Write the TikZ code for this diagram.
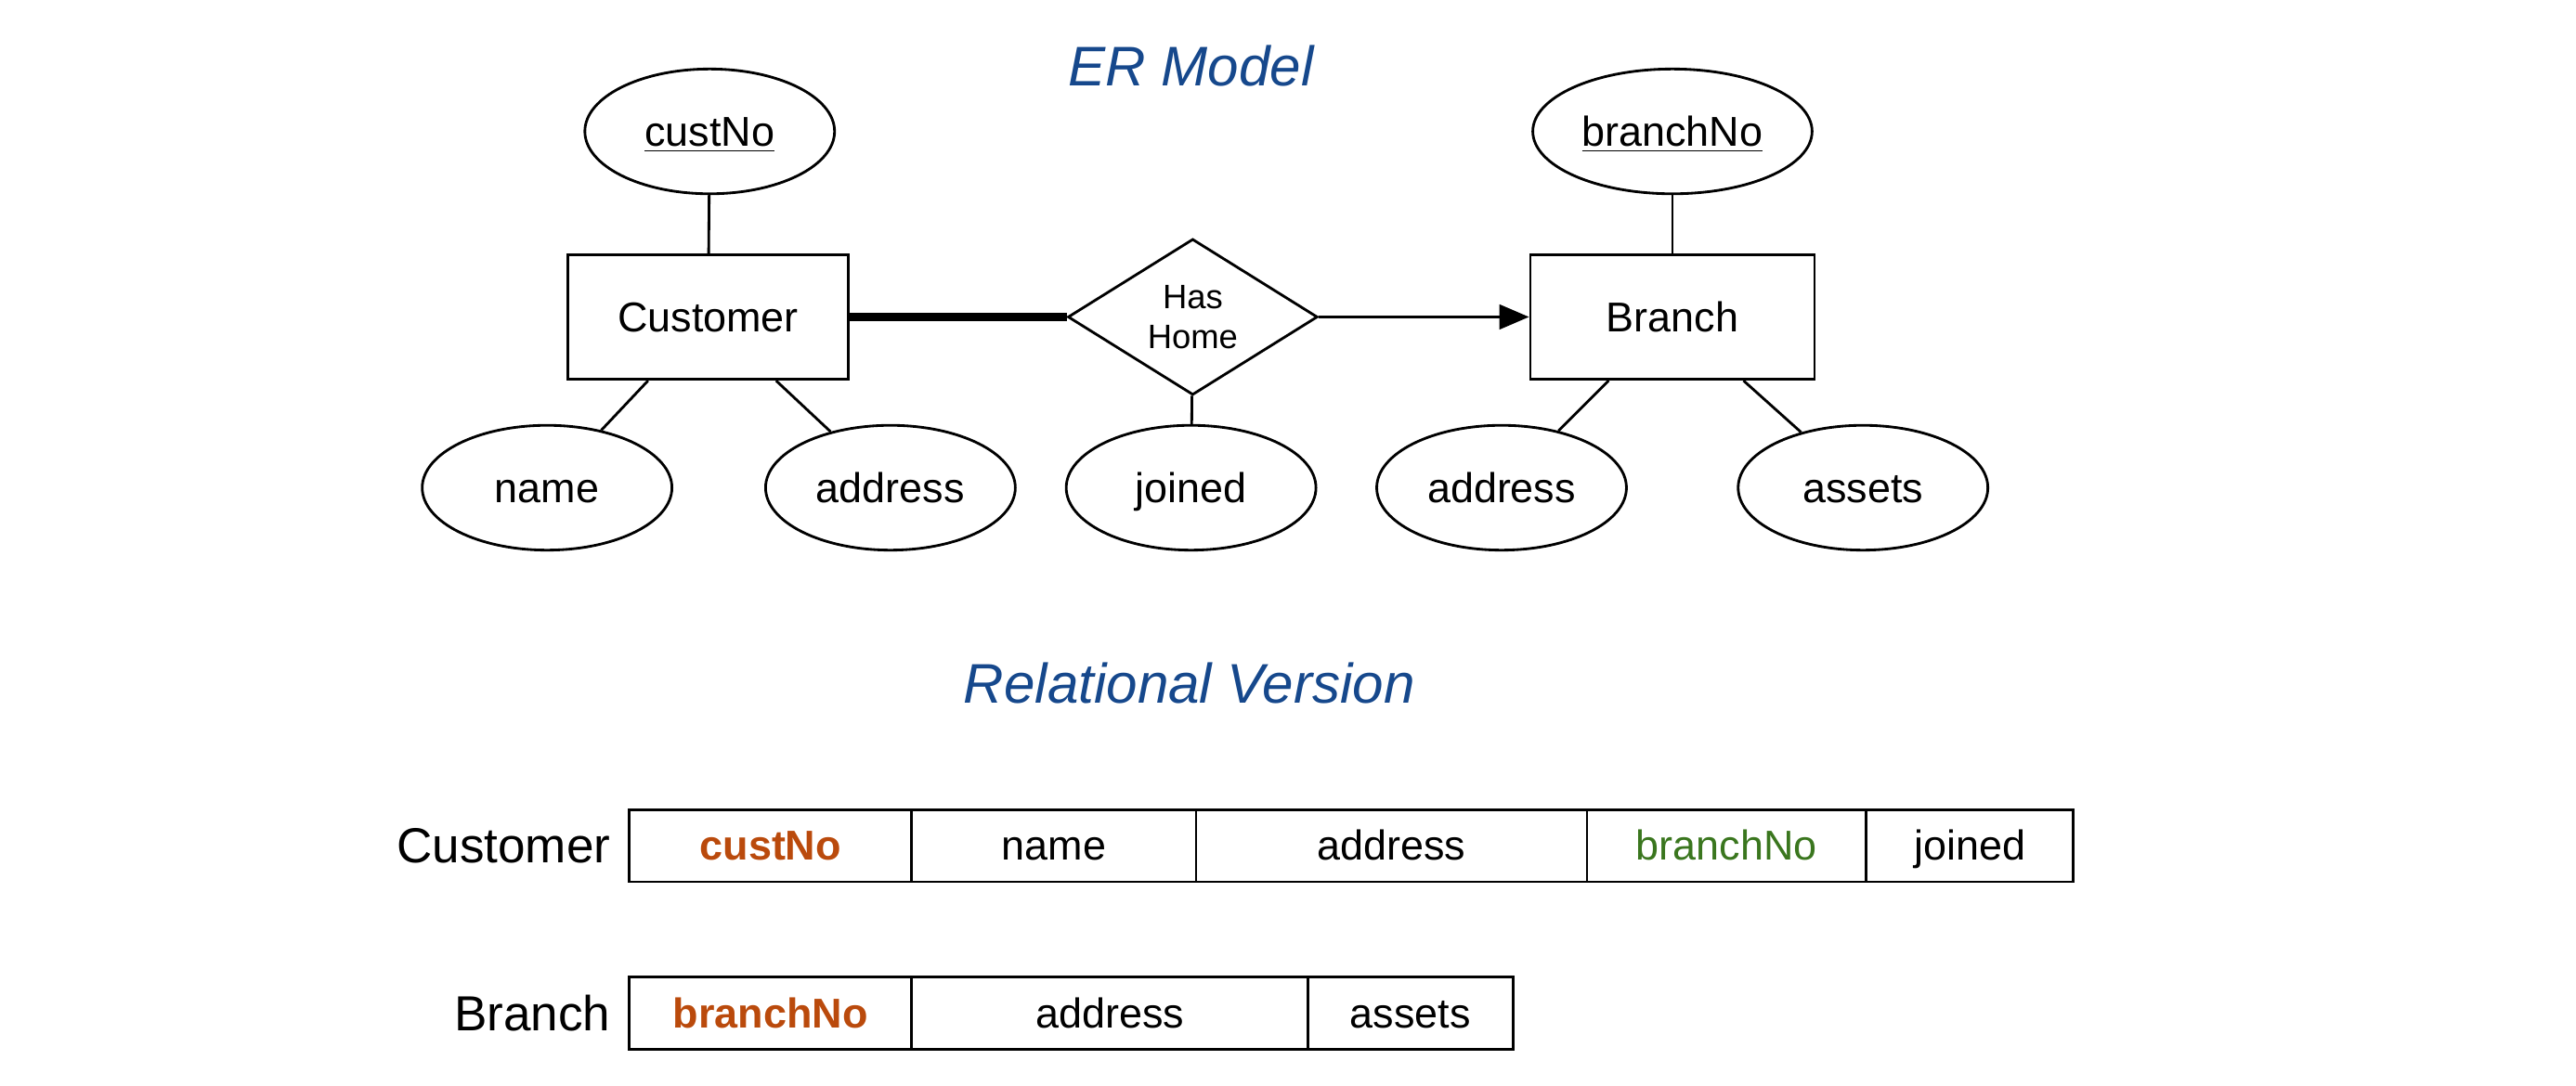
\documentclass[tikz,border=0pt]{standalone}
\usepackage{fontspec}
\setmainfont{Liberation Sans}
\usetikzlibrary{arrows.meta}
\usetikzlibrary{shapes.geometric}
\usetikzlibrary{positioning}
\definecolor{titleblue}{RGB}{22,72,140}
\definecolor{keyorange}{RGB}{186,74,12}
\definecolor{fkgreen}{RGB}{58,118,30}
\newcommand\txtsize{\fontsize{12.7}{15}\selectfont}
\tikzset{
  even/.style={text height=10.4pt, text depth=1.6pt},
  entity/.style={draw, even, line width=0.8pt, minimum width=85.5pt, minimum height=38pt, inner sep=0pt, font=\txtsize},
  attrib/.style={draw, even, ellipse, line width=0.8pt, minimum width=76pt, minimum height=38pt, inner sep=0pt, font=\txtsize},
  relship/.style={draw, diamond, aspect=1.6, line width=0.8pt, minimum width=76pt, minimum height=47.5pt, inner sep=0pt, align=center, font=\fontsize{10.3}{12}\selectfont},
  cell/.style={draw, even, line width=0.8pt, minimum height=22pt, inner sep=0pt, outer sep=0pt, font=\txtsize},
  rellabel/.style={inner sep=0pt, font=\fontsize{15}{18}\selectfont},
  heading/.style={font=\fontsize{17}{20}\selectfont\itshape, text=titleblue},
  link/.style={line width=0.8pt}
}
\newcommand\pkey[1]{\textcolor{keyorange}{\bfseries #1}}

\begin{document}
\begin{tikzpicture}[x=0.5pt,y=-0.5pt]
\useasboundingbox (0,0) rectangle (1568,661);

\node[heading] (ertitle) at (725,40) {ER Model};
\node[heading] (reltitle) at (724,416) {Relational Version};

% entities and relationship
\node[entity] (cust) at (431,193) {Customer};
\node[entity, minimum width=86.5pt] (branch) at (1018,193) {Branch};
\node[relship] (hashome) at (726,193) {Has\\Home};

% attributes
\node[attrib] (custno) at (432,80) {\underline{custNo}};
\node[attrib, minimum width=85pt] (branchno) at (1018,80) {\underline{branchNo}};
\node[attrib] (name) at (333,297) {name};
\node[attrib] (caddr) at (542,297) {address};
\node[attrib] (joined) at (725,297) {joined};
\node[attrib] (baddr) at (914,297) {address};
\node[attrib] (assets) at (1134,297) {assets};

\draw[link] (custno) -- (cust);
\draw[link] (branchno) -- (branch);
\draw[link] (cust) -- (name);
\draw[link] (cust) -- (caddr);
\draw[link] (hashome) -- (joined);
\draw[link] (branch) -- (baddr);
\draw[link] (branch) -- (assets);
\draw[line width=2.6pt] (cust.east) -- (hashome.west);
\draw[link, -{Triangle[length=9pt,width=7.5pt]}] (hashome.east) -- (branch.west);

% relational version
\node[cell, anchor=west, minimum width=86pt] (c1) at (383,515) {\pkey{custNo}};
\node[cell, anchor=west, minimum width=86.5pt, right=0pt of c1] (c2) {name};
\node[cell, anchor=west, minimum width=119pt, right=0pt of c2] (c3) {address};
\node[cell, anchor=west, minimum width=85pt, right=0pt of c3] (c4) {\textcolor{fkgreen}{branchNo}};
\node[cell, anchor=west, minimum width=63pt, right=0pt of c4] (c5) {joined};
\node[rellabel, left=5.5pt of c1] (custrel) {Customer};

\node[cell, anchor=west, minimum width=86pt] (b1) at (383,617) {\pkey{branchNo}};
\node[cell, anchor=west, minimum width=120.5pt, right=0pt of b1] (b2) {address};
\node[cell, anchor=west, minimum width=62.5pt, right=0pt of b2] (b3) {assets};
\node[rellabel, left=5.5pt of b1] (branchrel) {Branch};

\end{tikzpicture}
\end{document}
